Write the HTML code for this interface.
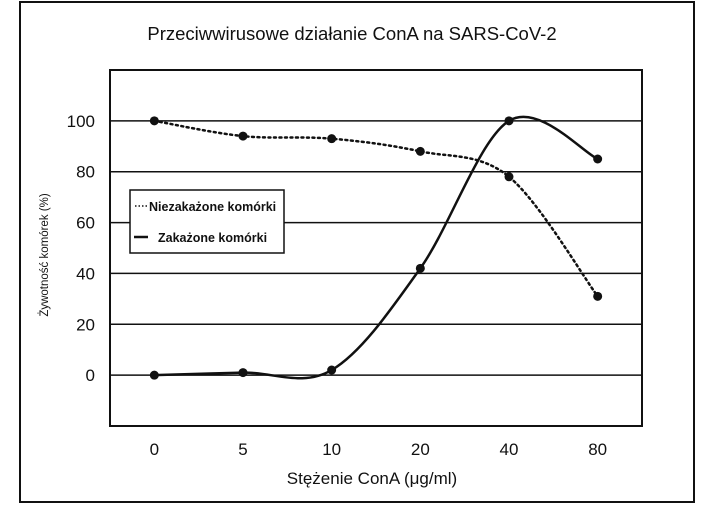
<!DOCTYPE html>
<html><head><meta charset="utf-8"><style>
body{margin:0;background:#fff;}
svg{display:block;font-family:"Liberation Sans",sans-serif;}
</style></head><body>
<svg id="chart" width="715" height="505" viewBox="0 0 715 505">
<rect x="20" y="2" width="674" height="500" fill="#fff" stroke="#111" stroke-width="2"/>
<text x="352" y="40" font-size="18.5" text-anchor="middle" fill="#111">Przeciwwirusowe działanie ConA na SARS-CoV-2</text>
<g id="grid"></g>
<rect x="110" y="70" width="532" height="356" fill="none" stroke="#111" stroke-width="2"/>
<g id="series"></g>
<text transform="translate(48,255) rotate(-90)" font-size="11.5" text-anchor="middle" fill="#111">Żywotność komórek (%)</text>
<text x="372" y="484" font-size="17" text-anchor="middle" fill="#111">Stężenie ConA (μg/ml)</text>
<g>
<rect x="130" y="190" width="154" height="63" fill="#fff" stroke="#111" stroke-width="1.5"/>
<line x1="135" y1="206" x2="148" y2="206" stroke="#111" stroke-width="1.5" stroke-dasharray="1.5,2"/>
<text x="149" y="211" font-size="12.5" font-weight="bold" fill="#111">Niezakażone komórki</text>
<line x1="134" y1="237" x2="148" y2="237" stroke="#111" stroke-width="2.5"/>
<text x="158" y="242" font-size="12.5" font-weight="bold" fill="#111">Zakażone komórki</text>
</g>
</svg>
<script>
const categories=["0","5","10","20","40","80"];
const uninfected=[100,94,93,88,78,31];
const infected=[0,1,2,42,100,85];
const yTicks=[0,20,40,60,80,100];
const NS="http://www.w3.org/2000/svg";
const L=110,R=642,T=70,B=426,yMin=-20,yMax=120;
const bw=(R-L)/categories.length;
const xs=i=>L+bw*(i+0.5);
const ys=v=>B-(v-yMin)/(yMax-yMin)*(B-T);
const grid=document.getElementById('grid'),ser=document.getElementById('series'),svg=document.getElementById('chart');
function mk(tag,attrs,parent){const e=document.createElementNS(NS,tag);for(const k in attrs)e.setAttribute(k,attrs[k]);parent.appendChild(e);return e;}
yTicks.forEach(v=>{
 const g=mk('line',{x1:L,x2:R,y1:ys(v),y2:ys(v),stroke:'#111','stroke-width':1.5},grid);
 
 
 const t=mk('text',{x:95,y:ys(v)+6,'font-size':17,'text-anchor':'end',fill:'#111'},svg);
 t.textContent=v;
 
 
});
categories.forEach((c,i)=>{
 const t=mk('text',{x:xs(i),y:455,'font-size':17,'text-anchor':'middle',fill:'#111'},svg);
 t.textContent=c;
 
 
});
function path(vals){
 const p=vals.map((v,i)=>[xs(i),ys(v)]);let d='M'+p[0][0]+','+p[0][1];
 for(let i=0;i<p.length-1;i++){
  const p0=p[Math.max(0,i-1)],p1=p[i],p2=p[i+1],p3=p[Math.min(p.length-1,i+2)];
  const k=1/6;
  d+=' C'+(p1[0]+(p2[0]-p0[0])*k)+','+(p1[1]+(p2[1]-p0[1])*k)+' '+(p2[0]-(p3[0]-p1[0])*k)+','+(p2[1]-(p3[1]-p1[1])*k)+' '+p2[0]+','+p2[1];
 }
 return d;
}
const l1=mk('path',{d:path(uninfected),fill:'none',stroke:'#111','stroke-width':2.5,'stroke-dasharray':'2,3.5','stroke-linecap':'round'},ser);


const l2=mk('path',{d:path(infected),fill:'none',stroke:'#111','stroke-width':2.5},ser);


[[uninfected,'uninfected'],[infected,'infected']].forEach(([arr,n])=>arr.forEach((v,i)=>{
 const c=mk('circle',{cx:xs(i),cy:ys(v),r:4.5,fill:'#111'},ser);
 
 
}));
</script>
</body></html>
